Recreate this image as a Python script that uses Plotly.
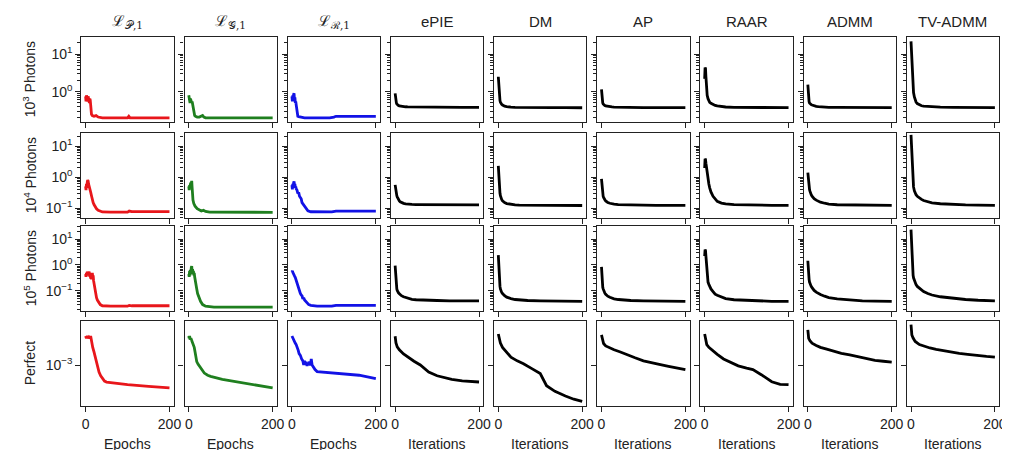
import plotly.graph_objects as go

# ---------------- data ----------------
COL_TITLES = ["ℒ<sub>𝒫,1</sub>", "ℒ<sub>𝒢,1</sub>", "ℒ<sub>ℛ,1</sub>",
              "ePIE", "DM", "AP", "RAAR", "ADMM", "TV-ADMM"]
ROW_LABELS = ["10<sup>3</sup> Photons", "10<sup>4</sup> Photons",
              "10<sup>5</sup> Photons", "Perfect"]
X_TITLES = ["Epochs", "Epochs", "Epochs", "Iterations", "Iterations",
            "Iterations", "Iterations", "Iterations", "Iterations"]
X_TICKS = [0, 200]
Y_TICKS = [[1, 10], [0.1, 1, 10], [0.1, 1, 10], [1e-3]]
Y_TICK_TEXT = [["10<sup>0</sup>", "10<sup>1</sup>"],
               ["10<sup>−1</sup>", "10<sup>0</sup>", "10<sup>1</sup>"],
               ["10<sup>−1</sup>", "10<sup>0</sup>", "10<sup>1</sup>"],
               ["10<sup>−3</sup>"]]

# ---- deep-learning losses (epochs) ----
R1_P_X = [0, 1, 2, 3, 4, 5, 6, 7, 8, 9, 10, 11, 12, 13, 14, 16, 20, 25, 30, 40, 60, 100, 103, 106, 150, 200]
R1_P_Y = [0.75, 0.55, 0.8, 0.6, 0.7, 0.55, 0.75, 0.65, 0.7, 0.5, 0.65, 0.6, 0.45, 0.3, 0.25, 0.23, 0.22, 0.23, 0.21, 0.2, 0.2, 0.2, 0.22, 0.2, 0.2, 0.2]
R1_G_X = [0, 1, 2, 3, 4, 5, 6, 7, 8, 9, 10, 11, 12, 13, 14, 16, 20, 25, 30, 33, 36, 40, 60, 100, 150, 200]
R1_G_Y = [0.8, 0.6, 0.75, 0.5, 0.65, 0.55, 0.6, 0.5, 0.55, 0.45, 0.5, 0.4, 0.3, 0.25, 0.23, 0.22, 0.21, 0.21, 0.22, 0.23, 0.21, 0.2, 0.2, 0.2, 0.2, 0.2]
R1_R_X = [0, 1, 2, 3, 4, 5, 6, 7, 8, 9, 10, 11, 12, 13, 14, 16, 20, 25, 30, 40, 60, 90, 100, 105, 150, 200]
R1_R_Y = [0.75, 0.55, 0.8, 0.6, 0.85, 0.9, 0.6, 0.7, 0.5, 0.55, 0.45, 0.35, 0.28, 0.24, 0.22, 0.215, 0.21, 0.21, 0.2, 0.2, 0.2, 0.2, 0.21, 0.22, 0.22, 0.22]

R2_P_X = [0, 1, 2, 3, 4, 5, 6, 7, 8, 9, 10, 12, 14, 16, 18, 20, 23, 26, 30, 35, 40, 60, 100, 104, 110, 150, 200]
R2_P_Y = [0.5, 0.38, 0.6, 0.45, 0.7, 0.8, 0.75, 0.6, 0.55, 0.45, 0.4, 0.33, 0.25, 0.18, 0.15, 0.13, 0.11, 0.095, 0.085, 0.08, 0.075, 0.074, 0.074, 0.08, 0.077, 0.077, 0.077]
R2_G_X = [0, 1, 2, 3, 4, 5, 6, 7, 8, 9, 10, 12, 15, 20, 25, 30, 35, 40, 50, 100, 200]
R2_G_Y = [0.5, 0.38, 0.55, 0.5, 0.6, 0.65, 0.6, 0.75, 0.45, 0.25, 0.18, 0.14, 0.115, 0.095, 0.085, 0.08, 0.085, 0.078, 0.074, 0.073, 0.073]
R2_R_X = [0, 1, 2, 3, 4, 5, 6, 7, 8, 9, 10, 12, 14, 16, 18, 20, 22, 24, 27, 30, 34, 38, 45, 60, 95, 105, 200]
R2_R_Y = [0.55, 0.4, 0.6, 0.5, 0.65, 0.72, 0.55, 0.6, 0.45, 0.5, 0.42, 0.38, 0.3, 0.32, 0.24, 0.22, 0.2, 0.15, 0.13, 0.11, 0.09, 0.082, 0.076, 0.075, 0.075, 0.08, 0.08]

R3_P_X = [0, 1, 2, 3, 4, 5, 6, 7, 8, 9, 10, 11, 12, 13, 14, 15, 16, 17, 18, 19, 20, 22, 24, 26, 28, 31, 35, 40, 60, 100, 104, 110, 200]
R3_P_Y = [0.45, 0.35, 0.5, 0.4, 0.55, 0.45, 0.5, 0.4, 0.55, 0.5, 0.35, 0.45, 0.3, 0.4, 0.28, 0.45, 0.5, 0.35, 0.4, 0.25, 0.2, 0.12, 0.07, 0.055, 0.045, 0.036, 0.03, 0.027, 0.026, 0.026, 0.028, 0.027, 0.027]
R3_G_X = [0, 1, 2, 3, 4, 5, 6, 7, 8, 9, 10, 11, 12, 13, 14, 15, 17, 19, 21, 24, 28, 33, 40, 60, 200]
R3_G_Y = [0.45, 0.35, 0.6, 0.4, 0.65, 0.5, 0.8, 0.9, 0.55, 0.7, 0.45, 0.6, 0.4, 0.5, 0.35, 0.3, 0.17, 0.12, 0.08, 0.055, 0.04, 0.03, 0.026, 0.024, 0.024]
R3_R_X = [0, 1, 2, 3, 4, 6, 8, 10, 12, 14, 16, 18, 20, 22, 24, 26, 28, 30, 33, 36, 40, 45, 60, 95, 105, 200]
R3_R_Y = [0.55, 0.6, 0.52, 0.45, 0.42, 0.38, 0.33, 0.25, 0.19, 0.15, 0.12, 0.1, 0.08, 0.07, 0.065, 0.05, 0.055, 0.045, 0.04, 0.035, 0.03, 0.028, 0.026, 0.026, 0.028, 0.028]

R4_P_X = [0, 2, 4, 6, 8, 10, 12, 14, 17, 20, 24, 28, 32, 36, 40, 45, 50, 70, 100, 150, 200]
R4_P_Y = [1.95e-3, 1.85e-3, 1.95e-3, 1.85e-3, 1.9e-3, 1.85e-3, 1.95e-3, 1.7e-3, 1.5e-3, 1.35e-3, 1.15e-3, 9.5e-4, 8.5e-4, 7.8e-4, 7.3e-4, 6.9e-4, 6.75e-4, 6.55e-4, 6.35e-4, 6.1e-4, 5.9e-4]
R4_G_X = [0, 1, 2, 3, 5, 7, 9, 11, 13, 15, 17, 19, 22, 25, 30, 37, 45, 52, 80, 120, 160, 200]
R4_G_Y = [1.95e-3, 1.85e-3, 1.95e-3, 1.8e-3, 1.85e-3, 1.75e-3, 1.7e-3, 1.6e-3, 1.5e-3, 1.35e-3, 1.2e-3, 1.08e-3, 1.02e-3, 9.8e-4, 9e-4, 8.3e-4, 7.9e-4, 7.7e-4, 7.2e-4, 6.7e-4, 6.3e-4, 5.9e-4]
R4_R_X = [0, 2, 4, 6, 8, 10, 13, 15, 17, 20, 23, 26, 28, 30, 32, 34, 36, 38, 40, 42, 44, 46, 48, 51, 55, 60, 80, 100, 130, 160, 180, 190, 200]
R4_R_Y = [1.95e-3, 1.85e-3, 1.8e-3, 1.7e-3, 1.65e-3, 1.6e-3, 1.5e-3, 1.4e-3, 1.3e-3, 1.25e-3, 1.15e-3, 1.1e-3, 1.0e-3, 1.1e-3, 1.0e-3, 1.08e-3, 9.8e-4, 1.05e-3, 1.0e-3, 1.08e-3, 9.9e-4, 1.15e-3, 1.0e-3, 9.5e-4, 9.0e-4, 8.6e-4, 8.45e-4, 8.3e-4, 8.1e-4, 7.9e-4, 7.6e-4, 7.4e-4, 7.3e-4]

# ---- iterative algorithms (iterations) ----
ITER_X = [0, 1, 2, 3, 4, 5, 6, 8, 10, 12, 15, 20, 25, 30, 40, 50, 70, 100, 130, 160, 200]

R1_EPIE = [0.9, 0.65, 0.55, 0.5, 0.47, 0.45, 0.44, 0.425, 0.415, 0.41, 0.405, 0.4, 0.395, 0.392, 0.39, 0.388, 0.386, 0.384, 0.383, 0.382, 0.381]
R1_DM = [2.5, 1.4, 0.9, 0.7, 0.58, 0.52, 0.49, 0.46, 0.44, 0.425, 0.41, 0.4, 0.39, 0.385, 0.38, 0.378, 0.376, 0.375, 0.374, 0.373, 0.372]
R1_AP = [1.15, 0.75, 0.55, 0.5, 0.47, 0.45, 0.44, 0.425, 0.415, 0.41, 0.4, 0.395, 0.39, 0.387, 0.383, 0.38, 0.378, 0.376, 0.375, 0.374, 0.373]
R1_RAAR = [2.2, 4.4, 4.2, 2.5, 1.5, 1.0, 0.8, 0.65, 0.57, 0.52, 0.49, 0.45, 0.43, 0.415, 0.4, 0.39, 0.383, 0.378, 0.376, 0.375, 0.374]
R1_ADMM = [1.55, 0.85, 0.6, 0.54, 0.5, 0.48, 0.465, 0.45, 0.44, 0.43, 0.42, 0.405, 0.397, 0.392, 0.386, 0.382, 0.379, 0.377, 0.376, 0.375, 0.374]
R1_TVADMM = [22, 12, 5, 2.5, 1.6, 1.2, 0.95, 0.72, 0.6, 0.53, 0.48, 0.44, 0.42, 0.41, 0.4, 0.393, 0.386, 0.382, 0.38, 0.378, 0.377]

R2_EPIE = [0.56, 0.42, 0.34, 0.29, 0.25, 0.23, 0.21, 0.185, 0.17, 0.16, 0.15, 0.142, 0.137, 0.134, 0.131, 0.13, 0.129, 0.128, 0.127, 0.127, 0.126]
R2_DM = [2.3, 1.1, 0.6, 0.4, 0.3, 0.25, 0.22, 0.19, 0.17, 0.16, 0.15, 0.14, 0.135, 0.131, 0.127, 0.125, 0.124, 0.123, 0.122, 0.122, 0.121]
R2_AP = [0.88, 0.5, 0.33, 0.27, 0.24, 0.22, 0.2, 0.185, 0.17, 0.16, 0.152, 0.143, 0.137, 0.133, 0.129, 0.127, 0.125, 0.124, 0.123, 0.122, 0.122]
R2_RAAR = [1.95, 3.9, 3.7, 2.8, 2.1, 1.6, 1.3, 0.9, 0.6, 0.45, 0.33, 0.24, 0.19, 0.165, 0.145, 0.136, 0.129, 0.125, 0.124, 0.123, 0.122]
R2_ADMM = [1.4, 0.85, 0.6, 0.47, 0.4, 0.35, 0.31, 0.27, 0.24, 0.22, 0.2, 0.18, 0.167, 0.155, 0.143, 0.135, 0.128, 0.125, 0.123, 0.122, 0.122]
R2_TVADMM = [23, 11, 4, 1.8, 0.9, 0.6, 0.48, 0.36, 0.3, 0.27, 0.24, 0.21, 0.19, 0.175, 0.158, 0.148, 0.138, 0.13, 0.126, 0.124, 0.123]

R3_EPIE = [0.94, 0.4, 0.2, 0.15, 0.12, 0.105, 0.095, 0.085, 0.079, 0.072, 0.066, 0.06, 0.056, 0.053, 0.048, 0.046, 0.044, 0.043, 0.042, 0.042, 0.042]
R3_DM = [2.4, 0.9, 0.4, 0.22, 0.15, 0.12, 0.105, 0.088, 0.08, 0.073, 0.066, 0.058, 0.054, 0.051, 0.047, 0.045, 0.043, 0.042, 0.041, 0.04, 0.04]
R3_AP = [0.85, 0.35, 0.18, 0.14, 0.12, 0.105, 0.095, 0.083, 0.075, 0.069, 0.063, 0.057, 0.053, 0.05, 0.047, 0.045, 0.043, 0.042, 0.041, 0.04, 0.04]
R3_RAAR = [2.2, 3.9, 3.6, 2.2, 1.1, 0.6, 0.35, 0.22, 0.18, 0.15, 0.12, 0.095, 0.075, 0.068, 0.058, 0.051, 0.046, 0.043, 0.041, 0.04, 0.04]
R3_ADMM = [1.46, 0.6, 0.37, 0.28, 0.22, 0.19, 0.17, 0.15, 0.135, 0.12, 0.105, 0.09, 0.08, 0.073, 0.063, 0.056, 0.05, 0.045, 0.042, 0.041, 0.04]
R3_TVADMM = [23, 8, 2.5, 1.0, 0.55, 0.4, 0.32, 0.24, 0.2, 0.175, 0.15, 0.125, 0.11, 0.095, 0.08, 0.07, 0.06, 0.052, 0.047, 0.044, 0.042]

ITER_X4 = [0, 2, 5, 10, 20, 30, 45, 60, 80, 100, 115, 135, 160, 180, 200]
R4_EPIE = [1.94e-3, 1.66e-3, 1.52e-3, 1.42e-3, 1.29e-3, 1.2e-3, 1.09e-3, 1.0e-3, 8.5e-4, 7.8e-4, 7.5e-4, 7.2e-4, 6.95e-4, 6.85e-4, 6.76e-4]
R4_DM = [2.04e-3, 1.8e-3, 1.66e-3, 1.5e-3, 1.33e-3, 1.2e-3, 1.1e-3, 1.03e-3, 9.2e-4, 8.2e-4, 6.2e-4, 5.45e-4, 4.9e-4, 4.55e-4, 4.33e-4]
R4_AP = [2.0e-3, 1.78e-3, 1.64e-3, 1.55e-3, 1.48e-3, 1.42e-3, 1.35e-3, 1.27e-3, 1.18e-3, 1.1e-3, 1.06e-3, 1.02e-3, 9.7e-4, 9.3e-4, 8.98e-4]
R4_RAAR = [2.04e-3, 1.8e-3, 1.6e-3, 1.5e-3, 1.38e-3, 1.28e-3, 1.15e-3, 1.07e-3, 9.8e-4, 9.3e-4, 8.98e-4, 8.0e-4, 6.8e-4, 6.4e-4, 6.35e-4]
R4_ADMM = [2.25e-3, 1.85e-3, 1.75e-3, 1.65e-3, 1.57e-3, 1.5e-3, 1.44e-3, 1.38e-3, 1.31e-3, 1.26e-3, 1.22e-3, 1.17e-3, 1.11e-3, 1.09e-3, 1.07e-3]
R4_TVADMM = [2.53e-3, 2.0e-3, 1.86e-3, 1.72e-3, 1.6e-3, 1.54e-3, 1.48e-3, 1.43e-3, 1.38e-3, 1.34e-3, 1.31e-3, 1.28e-3, 1.24e-3, 1.22e-3, 1.2e-3]

ROWS = [
    [(R1_P_X, R1_P_Y), (R1_G_X, R1_G_Y), (R1_R_X, R1_R_Y),
     (ITER_X, R1_EPIE), (ITER_X, R1_DM), (ITER_X, R1_AP),
     (ITER_X, R1_RAAR), (ITER_X, R1_ADMM), (ITER_X, R1_TVADMM)],
    [(R2_P_X, R2_P_Y), (R2_G_X, R2_G_Y), (R2_R_X, R2_R_Y),
     (ITER_X, R2_EPIE), (ITER_X, R2_DM), (ITER_X, R2_AP),
     (ITER_X, R2_RAAR), (ITER_X, R2_ADMM), (ITER_X, R2_TVADMM)],
    [(R3_P_X, R3_P_Y), (R3_G_X, R3_G_Y), (R3_R_X, R3_R_Y),
     (ITER_X, R3_EPIE), (ITER_X, R3_DM), (ITER_X, R3_AP),
     (ITER_X, R3_RAAR), (ITER_X, R3_ADMM), (ITER_X, R3_TVADMM)],
    [(R4_P_X, R4_P_Y), (R4_G_X, R4_G_Y), (R4_R_X, R4_R_Y),
     (ITER_X4, R4_EPIE), (ITER_X4, R4_DM), (ITER_X4, R4_AP),
     (ITER_X4, R4_RAAR), (ITER_X4, R4_ADMM), (ITER_X4, R4_TVADMM)],
]

# ---------------- styling / layout ----------------
W, H = 1010, 450
COLORS = ["#e8161b", "#1f7f1f", "#1212e6"] + ["#000000"] * 6
FONT = "Liberation Sans, Arial, sans-serif"
TXT = "#222222"
COL_LEFT = [74 + 104 * c for c in range(9)]
COL_W = 93
ROW_TOP = [29, 125, 218, 313]
ROW_H = 85
Y_RANGES = [[-0.81, 1.46], [-1.32, 1.42], [-1.77, 1.5], [-3.41, -2.56]]
MINOR_VALS = [k * 10.0 ** d for d in (-2, -1, 0, 1) for k in range(2, 10)]

fig = go.Figure()
layout = {}
for r in range(4):
    for c in range(9):
        k = r * 9 + c + 1
        xs, ys = ROWS[r][c]
        fig.add_trace(go.Scatter(
            x=xs, y=ys, mode="lines",
            line=dict(color=COLORS[c], width=2.8),
            xaxis="x" if k == 1 else f"x{k}",
            yaxis="y" if k == 1 else f"y{k}",
            showlegend=False, hoverinfo="skip"))
        x0 = COL_LEFT[c] / W
        x1 = (COL_LEFT[c] + COL_W) / W
        y1 = 1 - ROW_TOP[r] / H
        y0 = 1 - (ROW_TOP[r] + ROW_H) / H
        common = dict(showline=True, mirror=True, linecolor=TXT, linewidth=1.2,
                      ticks="outside", ticklen=5, tickwidth=1, tickcolor=TXT,
                      showgrid=False, zeroline=False,
                      tickfont=dict(family=FONT, size=14, color=TXT))
        xa = dict(common, domain=[x0, x1], range=[-10, 210],
                  anchor=f"y{k}" if k > 1 else "y",
                  tickmode="array", tickvals=X_TICKS,
                  ticktext=[str(v) for v in X_TICKS],
                  showticklabels=(r == 3))
        ya = dict(common, domain=[y0, y1], type="log", range=Y_RANGES[r],
                  anchor=f"x{k}" if k > 1 else "x",
                  tickmode="array", tickvals=Y_TICKS[r], ticktext=Y_TICK_TEXT[r],
                  showticklabels=(c == 0))
        if r < 3:
            ya["minor"] = dict(tickmode="array", tickvals=MINOR_VALS,
                               ticks="outside", ticklen=3, tickwidth=1,
                               tickcolor=TXT, showgrid=False)
        layout["xaxis" if k == 1 else f"xaxis{k}"] = xa
        layout["yaxis" if k == 1 else f"yaxis{k}"] = ya

annotations = []
for c in range(9):
    xc = (COL_LEFT[c] + COL_W / 2) / W
    is_math = c < 3
    annotations.append(dict(
        text=COL_TITLES[c], x=xc, y=1 - 14 / H, xref="paper", yref="paper",
        showarrow=False, xanchor="center", yanchor="middle",
        font=dict(family=("DejaVu Serif, serif" if is_math else FONT),
                  size=15, color=TXT)))
    annotations.append(dict(
        text=X_TITLES[c], x=xc, y=1 - 436 / H, xref="paper", yref="paper",
        showarrow=False, xanchor="center", yanchor="middle",
        font=dict(family=FONT, size=14, color=TXT)))
for r in range(4):
    yc = 1 - (ROW_TOP[r] + ROW_H / 2) / H
    annotations.append(dict(
        text=ROW_LABELS[r], x=22 / W, y=yc, xref="paper", yref="paper",
        showarrow=False, xanchor="center", yanchor="middle", textangle=-90,
        font=dict(family=FONT, size=14, color=TXT)))

fig.update_layout(
    width=W, height=H, autosize=False,
    margin=dict(l=0, r=0, t=0, b=0),
    paper_bgcolor="white", plot_bgcolor="white",
    annotations=annotations, **layout)

fig.write_html("out.html")
